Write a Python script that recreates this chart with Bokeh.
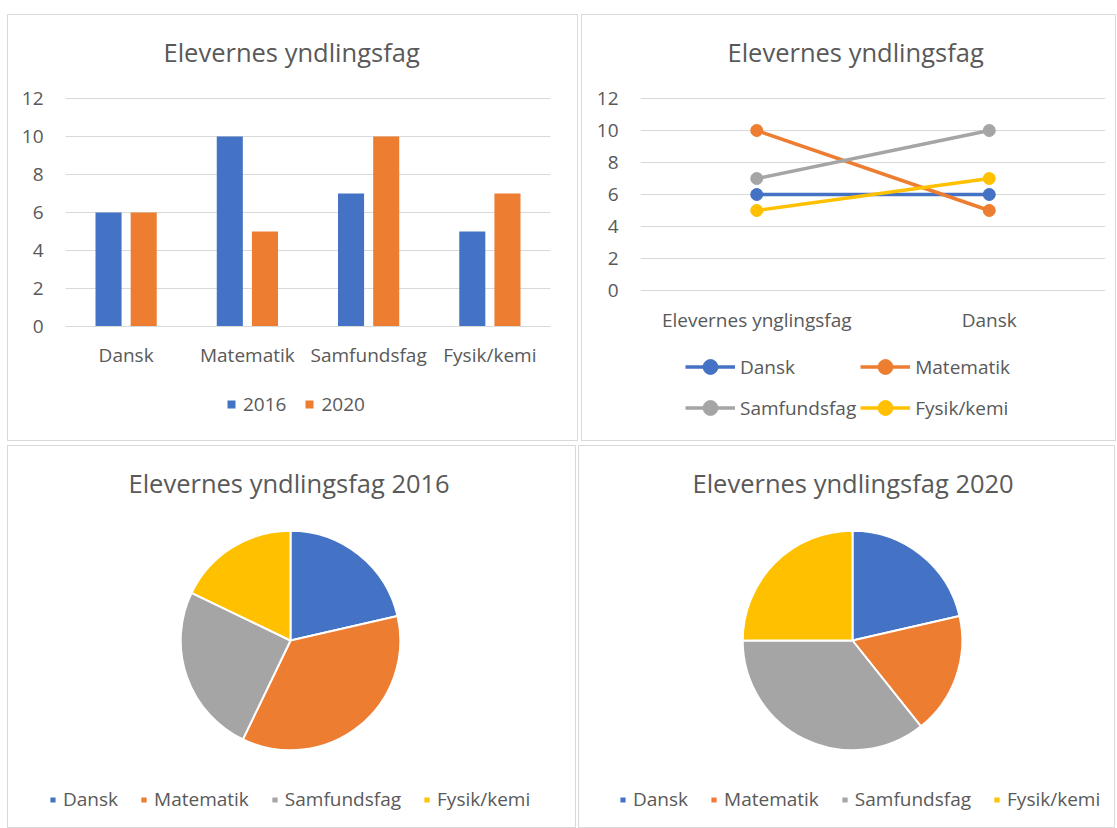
import math
from bokeh.plotting import figure
from bokeh.models import (ColumnDataSource, FactorRange, Range1d, Legend, LegendItem,
                          Title, FixedTicker)
from bokeh.layouts import column, row
from bokeh.embed import file_html
from bokeh.resources import INLINE
from bokeh.transform import dodge

# ---------------- data ----------------
subjects = ["Dansk", "Matematik", "Samfundsfag", "Fysik/kemi"]
years = ["2016", "2020"]
values_2016 = [6, 10, 7, 5]
values_2020 = [6, 5, 10, 7]

line_categories = ["Elevernes ynglingsfag", "Dansk"]
line_dansk = [6, 6]
line_matematik = [10, 5]
line_samfundsfag = [7, 10]
line_fysik = [5, 7]

y_ticks = [0, 2, 4, 6, 8, 10, 12]
title_main = "Elevernes yndlingsfag"
title_2016 = "Elevernes yndlingsfag 2016"
title_2020 = "Elevernes yndlingsfag 2020"

# ---------------- style ----------------
FONT = "Open Sans"
TXT = "#595959"
GRID = "#d9d9d9"
BLUE, ORANGE, GRAY, YELLOW = "#4472C4", "#ED7D31", "#A5A5A5", "#FFC000"
colors = [BLUE, ORANGE, GRAY, YELLOW]
SMALL = "19px"
TITLE = "25.5px"
TOP = 68          # top border (title panel) in px
TITLE_STANDOFF = 30


def add_title(p, text, offset=None):
    t = Title(text=text, align="center" if offset is None else "left", text_font=FONT,
              text_font_size=TITLE, text_color=TXT, text_font_style="normal",
              standoff=TITLE_STANDOFF, offset=offset or 0)
    p.add_layout(t, "above")


def base_fig(**kw):
    p = figure(output_backend="svg", toolbar_location=None, tools="",
               background_fill_color="white", border_fill_color="white", **kw)
    p.outline_line_color = None
    return p


def style_axes(p):
    p.xgrid.grid_line_color = None
    p.ygrid.grid_line_color = GRID
    p.ygrid.grid_line_width = 1
    for ax in p.axis:
        ax.major_tick_line_color = None
        ax.minor_tick_line_color = None
        ax.major_label_text_font = FONT
        ax.major_label_text_font_size = SMALL
        ax.major_label_text_color = TXT
    p.yaxis.axis_line_color = None
    p.xaxis.axis_line_color = GRID
    p.yaxis.ticker = FixedTicker(ticks=y_ticks)
    p.xaxis.fixed_location = 0


def make_legend(items, loc, **kw):
    return Legend(items=items, location=loc, orientation="horizontal", padding=0, margin=0,
                  border_line_color=None, background_fill_alpha=0, label_text_font=FONT,
                  label_text_font_size=SMALL, label_text_color=TXT, **kw)


def panel(p, margin):
    return column(p, margin=margin, styles={"border": "1px solid #d9d9d9"})


def y_range_for(height, px_top_tick, px_zero):
    # pixel rows (from the figure top) where the highest tick and zero should fall
    top = max(y_ticks)
    per_px = top / (px_zero - px_top_tick)
    return Range1d(-(height - px_zero) * per_px, top + (px_top_tick - TOP) * per_px)


# ---------------- 1: clustered bars ----------------
H1 = 425
p1 = base_fig(width=569, height=H1, x_range=FactorRange(factors=subjects, range_padding=0),
              y_range=y_range_for(H1, 83, 311),
              min_border_left=57, min_border_right=27, min_border_top=TOP, min_border_bottom=0)
src1 = ColumnDataSource(dict(subject=subjects, v2016=values_2016, v2020=values_2020))
r16 = p1.vbar(x=dodge("subject", -0.145, range=p1.x_range), top="v2016", width=0.215,
              source=src1, color=BLUE, line_color=None)
r20 = p1.vbar(x=dodge("subject", 0.145, range=p1.x_range), top="v2020", width=0.215,
              source=src1, color=ORANGE, line_color=None)
style_axes(p1)
p1.xaxis.major_label_standoff = 9
p1.yaxis.major_label_standoff = 16
add_title(p1, title_main, offset=98)
lg1 = make_legend([LegendItem(label=years[0], renderers=[r16]),
                   LegendItem(label=years[1], renderers=[r20])], (161, 23),
                  glyph_width=10, glyph_height=10, label_standoff=7, spacing=18)
p1.add_layout(lg1, "center")

# ---------------- 2: lines ----------------
H2 = 425
p2 = base_fig(width=533, height=H2, x_range=FactorRange(factors=line_categories, range_padding=0),
              y_range=y_range_for(H2, 83, 275),
              min_border_left=58, min_border_right=10, min_border_top=TOP, min_border_bottom=0)
line_series = [("Dansk", line_dansk), ("Matematik", line_matematik),
               ("Samfundsfag", line_samfundsfag), ("Fysik/kemi", line_fysik)]
items2 = []
for (name, ys), c in zip(line_series, colors):
    rl = p2.line(x=line_categories, y=ys, line_color=c, line_width=3.5)
    rs = p2.scatter(x=line_categories, y=ys, marker="circle", size=12, fill_color=c, line_color=c)
    items2.append(LegendItem(label=name, renderers=[rl, rs]))
style_axes(p2)
p2.xaxis.axis_line_color = None
p2.xaxis.major_label_standoff = 10
p2.yaxis.major_label_standoff = 16
add_title(p2, title_main, offset=87)
lg2 = make_legend(items2, (45, 14), ncols=2, glyph_width=50, glyph_height=37,
                  label_standoff=5, spacing=4)
p2.add_layout(lg2, "center")


# ---------------- 3/4: pies ----------------
def pie(vals, title, width, center_px, legend_x, title_offset):
    height = 381
    unit = 224 / 2.04          # px per data unit (pie radius = 1)
    center_row = 194           # pixel row of pie centre from figure top
    x0 = -center_px / unit
    x1 = (width - center_px) / unit
    y1 = (center_row - TOP) / unit
    y0 = -(height - center_row) / unit
    p = base_fig(width=width, height=height, x_range=Range1d(x0, x1), y_range=Range1d(y0, y1),
                 x_axis_type=None, y_axis_type=None,
                 min_border_left=0, min_border_right=0, min_border_top=TOP,
                 min_border_bottom=0)
    p.grid.grid_line_color = None
    total = sum(vals)
    cum = [0]
    for v in vals:
        cum.append(cum[-1] + v)
    starts = [math.pi / 2 - 2 * math.pi * c / total for c in cum[:-1]]
    ends = [math.pi / 2 - 2 * math.pi * c / total for c in cum[1:]]
    src = ColumnDataSource(dict(subject=subjects, start=starts, end=ends, color=colors, v=vals))
    rw = p.wedge(x=0, y=0, radius=1, start_angle="start", end_angle="end", direction="clock",
                 fill_color="color", line_color="white", line_width=2, source=src)
    add_title(p, title, offset=title_offset)
    lg = make_legend([LegendItem(label=s, renderers=[rw], index=i) for i, s in enumerate(subjects)],
                     (legend_x, 15), glyph_width=9, glyph_height=9, label_standoff=6, spacing=21)
    p.add_layout(lg, "center")
    return p


p3 = pie(values_2016, title_2016, 567, 282, 40, 120)
p4 = pie(values_2020, title_2020, 535, 273, 39, 113)

layout = column(row(panel(p1, (14, 0, 0, 7)), panel(p2, (14, 0, 0, 3))),
                row(panel(p3, (4, 0, 0, 7)), panel(p4, (4, 0, 0, 2))))
open("out.html", "w").write(file_html(layout, INLINE))
